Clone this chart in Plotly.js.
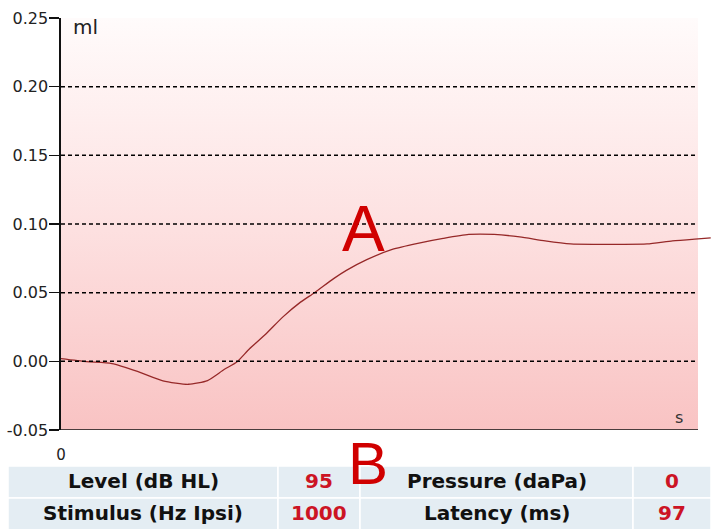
<!DOCTYPE html>
<html>
<head>
<meta charset="utf-8">
<script src="https://cdn.plot.ly/plotly-3.0.1.min.js"></script>
<style>html,body{margin:0;padding:0;background:#fff;}#chart{width:711px;height:529px;}</style>
</head>
<body>
<div id="chart"></div>
<script>
// ---- data ----
const timeMs = [0, 20, 40, 60, 80, 100, 115, 128, 138, 148, 161, 174, 188, 199, 214, 224, 240, 260, 280, 300, 320, 340, 360, 380, 400, 420, 440, 460, 480, 500, 510];
const volumeMl = [0.0020, -0.0002, -0.0016, -0.0073, -0.0142, -0.0167, -0.0140, -0.0060, -0.0005, 0.0092, 0.0201, 0.0322, 0.0431, 0.0500, 0.0602, 0.0662, 0.0740, 0.0815, 0.0859, 0.0895, 0.0924, 0.0924, 0.0906, 0.0877, 0.0855, 0.0852, 0.0852, 0.0855, 0.0877, 0.0892, 0.0899];
const yTicks = [-0.05, 0.00, 0.05, 0.10, 0.15, 0.20, 0.25];
const gridVals = [0.00, 0.05, 0.10, 0.15, 0.20];
const xTickVals = [0];
const xTickText = ['0'];
const tableLabels = [['Level (dB HL)', 'Pressure (daPa)'], ['Stimulus (Hz Ipsi)', 'Latency (ms)']];
const tableValues = [['95', '0'], ['1000', '97']];
const markA = 'A';
const markB = 'B';

// ---- layout helpers (pixel -> paper) ----
const L = 61, T = 18, W = 711, H = 529, B = 99;
const plotW = W - L, plotH = H - T - B;
const px = v => (v - L) / plotW;
const py = v => (H - B - v) / plotH;
const xEndPlot = 500; // data x where the framed area ends

const svg = "<svg xmlns='http://www.w3.org/2000/svg' width='100' height='100' preserveAspectRatio='none'>" +
  "<defs><linearGradient id='g' x1='0' y1='0' x2='0' y2='1'>" +
  "<stop offset='0' stop-color='#fffbfb'/><stop offset='0.5' stop-color='#fde1e1'/><stop offset='1' stop-color='#f9c3c3'/>" +
  "</linearGradient></defs><rect width='100' height='100' fill='url(#g)'/></svg>";
const bgUri = 'data:image/svg+xml;charset=utf-8,' + encodeURIComponent(svg);

const shapes = [];
gridVals.forEach(g => shapes.push({type: 'line', xref: 'x', yref: 'y', x0: 0, x1: xEndPlot, y0: g, y1: g,
  line: {color: '#000', width: 1.5, dash: '4px,3px'}, layer: 'above'}));
shapes.push({type: 'line', xref: 'x', yref: 'y', x0: 0, x1: xEndPlot, y0: -0.05, y1: -0.05, line: {color: '#111', width: 1.6}});

const colEdges = [8, 278, 360, 633, 711];
const rowEdges = [466, 498, 530];
const annotations = [];
for (let r = 0; r < 2; r++) {
  for (let c = 0; c < 4; c++) {
    shapes.push({type: 'rect', xref: 'paper', yref: 'paper',
      x0: px(colEdges[c]), x1: px(colEdges[c + 1]), y0: py(rowEdges[r + 1]), y1: py(rowEdges[r]),
      fillcolor: '#e4edf3', line: {color: '#ffffff', width: 1.5}});
    const isVal = c % 2 === 1;
    const txt = isVal ? tableValues[r][(c - 1) / 2] : tableLabels[r][c / 2];
    annotations.push({xref: 'paper', yref: 'paper', x: px((colEdges[c] + colEdges[c + 1]) / 2),
      y: py((rowEdges[r] + rowEdges[r + 1]) / 2 - 1), text: '<b>' + txt + '</b>', showarrow: false,
      xanchor: 'center', yanchor: 'middle',
      font: {family: 'DejaVu Sans', size: 20, color: isVal ? '#cc1424' : '#111'}});
  }
}
annotations.push({xref: 'paper', yref: 'paper', x: px(71), y: py(27), text: 'ml', showarrow: false,
  xanchor: 'left', yanchor: 'middle', font: {family: 'DejaVu Sans', size: 20, color: '#222'}});
annotations.push({xref: 'paper', yref: 'paper', x: px(679), y: py(417), text: 's', showarrow: false,
  xanchor: 'center', yanchor: 'middle', font: {family: 'DejaVu Sans', size: 16, color: '#333'}});
annotations.push({xref: 'paper', yref: 'paper', x: px(363), y: py(229), text: markA, showarrow: false,
  xanchor: 'center', yanchor: 'middle', font: {family: 'Liberation Sans', size: 64, color: '#d00000'}});
annotations.push({xref: 'paper', yref: 'paper', x: px(368), y: py(463), text: markB, showarrow: false,
  xanchor: 'center', yanchor: 'middle', font: {family: 'Liberation Sans', size: 60, color: '#d00000'}});

const data = [{
  type: 'scatter', mode: 'lines', x: timeMs, y: volumeMl,
  line: {color: '#962828', width: 1.3, shape: 'spline', smoothing: 0.6},
  hoverinfo: 'skip'
}];

const layout = {
  width: W, height: H,
  margin: {l: L, r: 0, t: T, b: B, pad: 0},
  paper_bgcolor: '#ffffff', plot_bgcolor: '#ffffff',
  showlegend: false,
  xaxis: {range: [0, (W - L) / ((698 - L) / xEndPlot)], showgrid: false, zeroline: false, showline: false,
    tickvals: xTickVals, ticktext: xTickText, ticks: '', ticklabelstandoff: 14,
    tickfont: {family: 'DejaVu Sans', size: 15, color: '#222'}, fixedrange: true},
  yaxis: {range: [-0.05, 0.25], showgrid: false, zeroline: false, showline: true, linecolor: '#111', linewidth: 1.6,
    tickvals: yTicks, ticktext: yTicks.map(v => v.toFixed(2)), ticks: 'outside', ticklen: 10, tickwidth: 1.5, tickcolor: '#111',
    ticklabelstandoff: -2, tickfont: {family: 'DejaVu Sans', size: 16, color: '#222'}, fixedrange: true},
  images: [{source: bgUri, xref: 'x', yref: 'y', x: 0, y: 0.25, sizex: xEndPlot, sizey: 0.30,
    sizing: 'stretch', xanchor: 'left', yanchor: 'top', layer: 'below'}],
  shapes: shapes,
  annotations: annotations
};

Plotly.newPlot('chart', data, layout, {displayModeBar: false, staticPlot: true});
</script>
</body>
</html>
